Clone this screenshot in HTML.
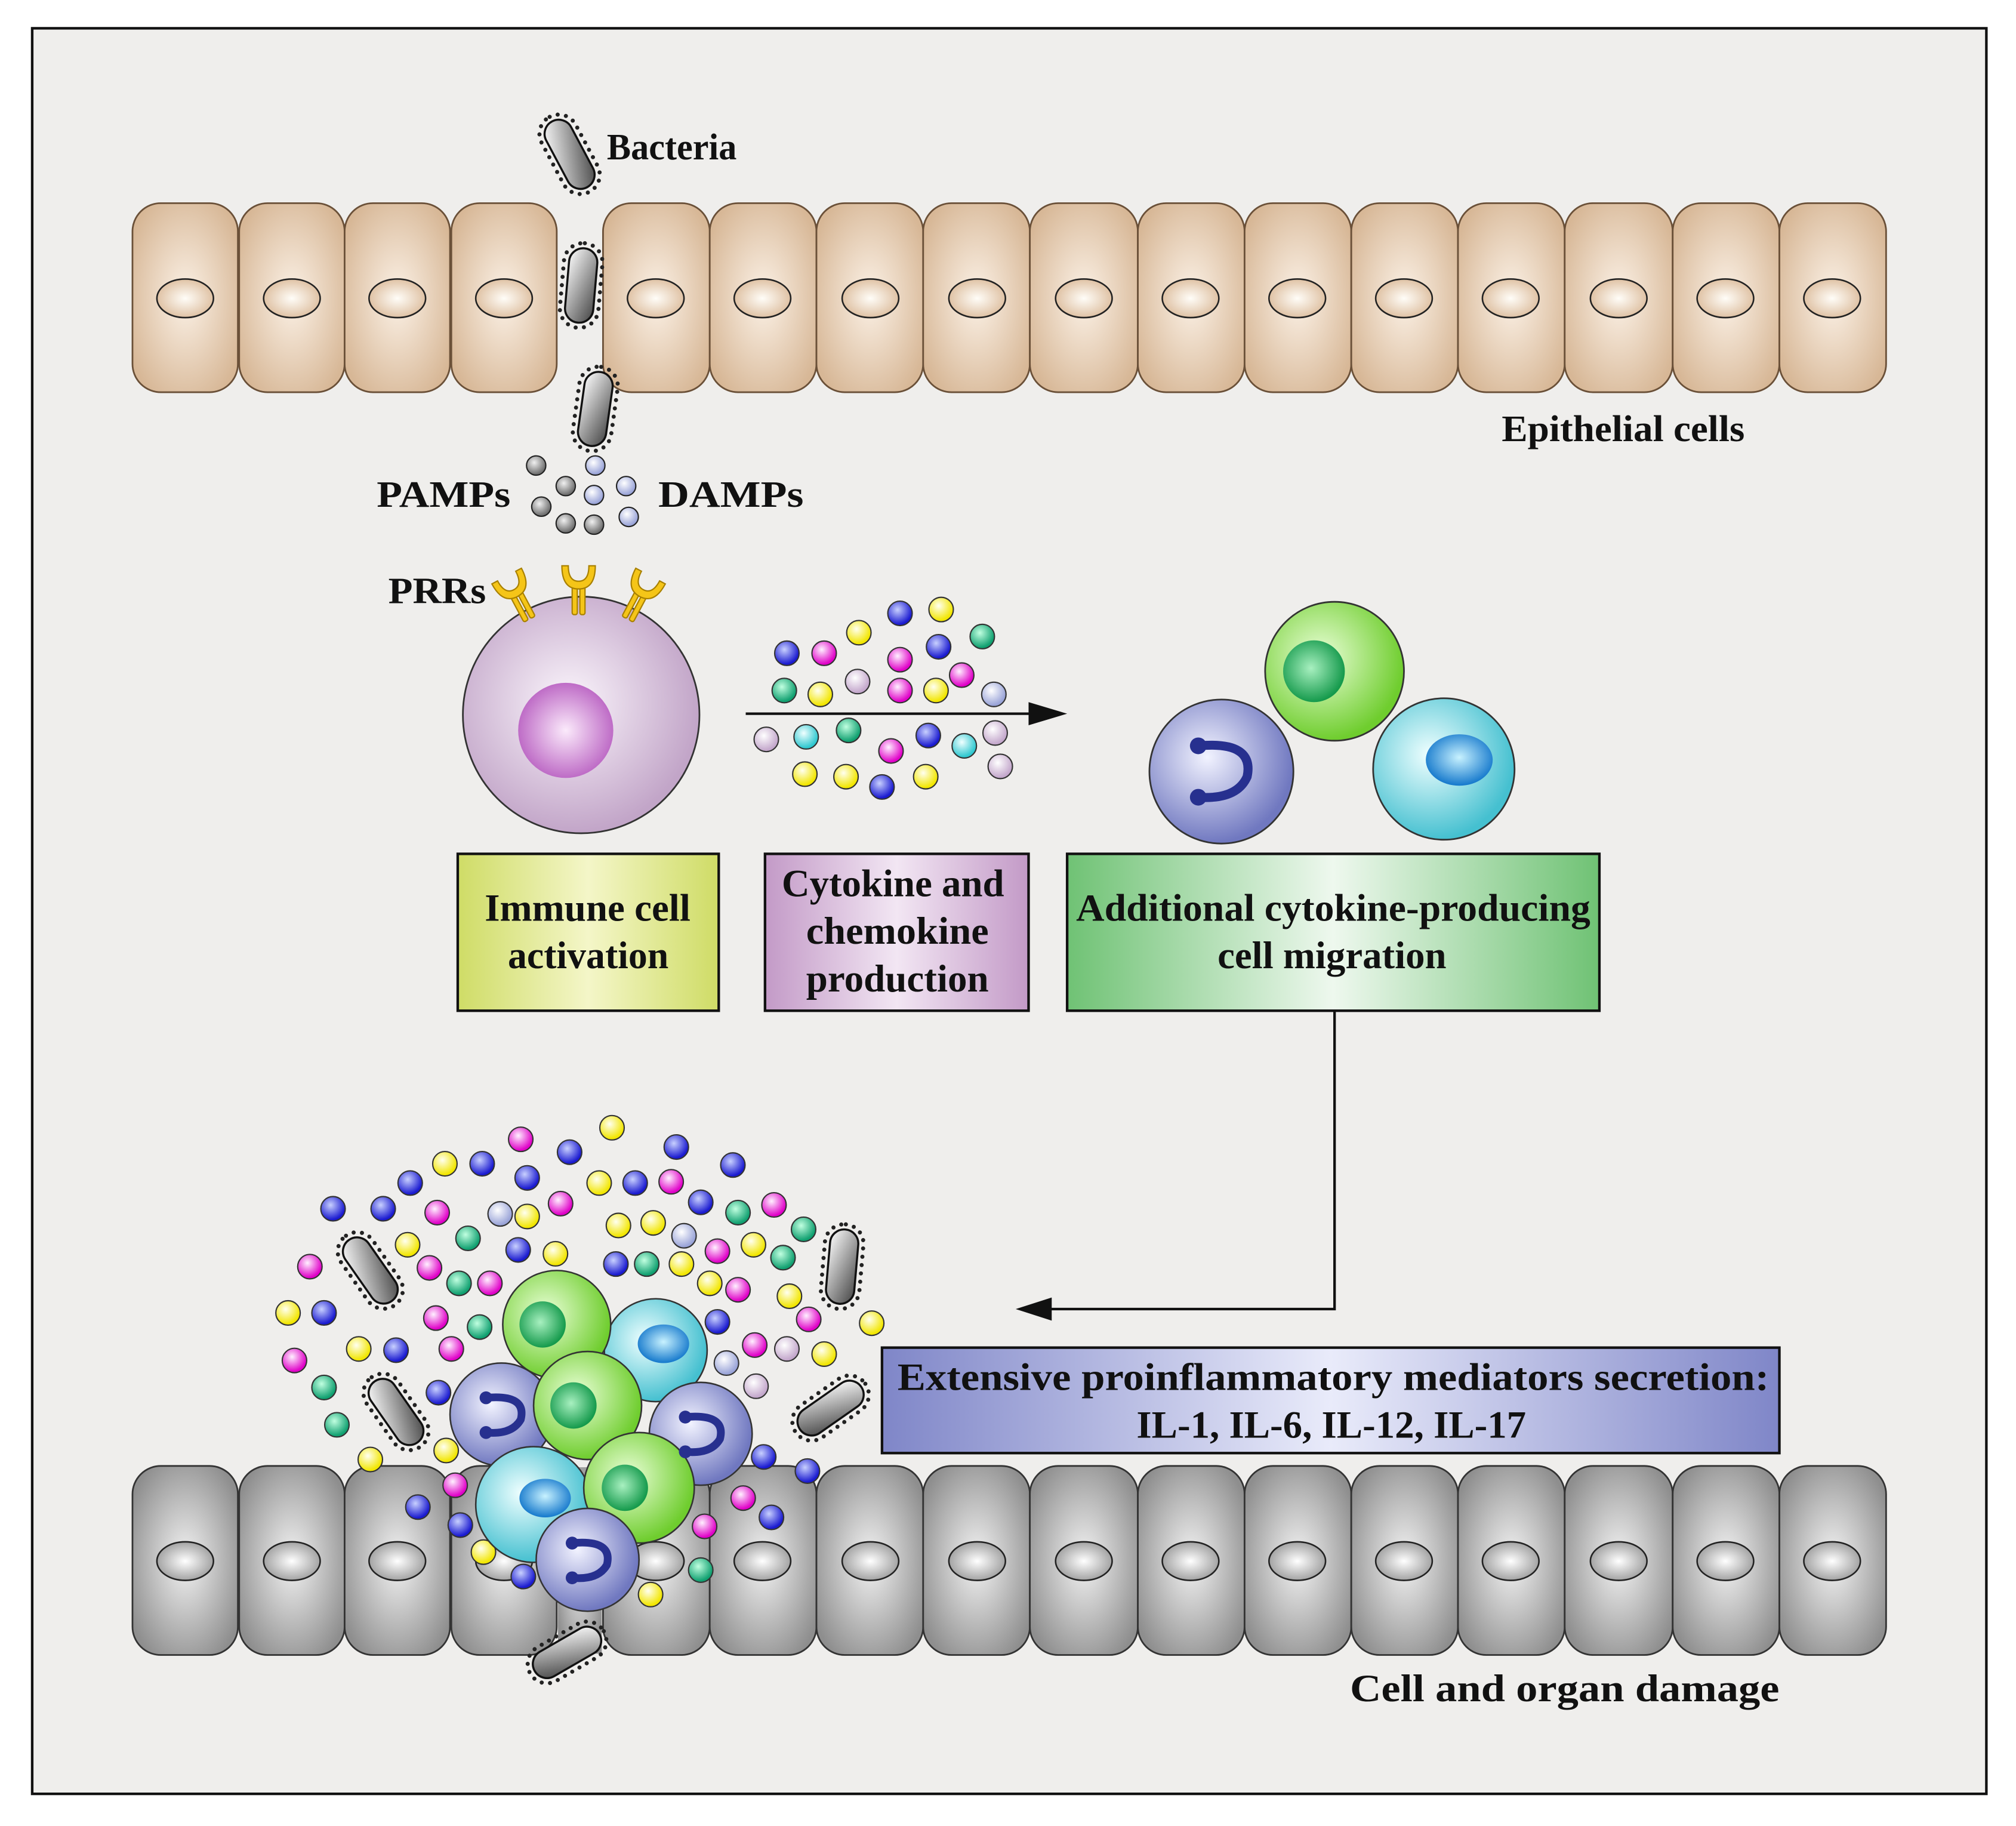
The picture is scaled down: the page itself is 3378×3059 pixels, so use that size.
<!DOCTYPE html>
<html><head><meta charset="utf-8"><style>html,body{margin:0;padding:0;background:#fff}svg{display:block}text{font-family:"Liberation Serif",serif;font-weight:bold;fill:#111}</style></head><body>
<svg width="3378" height="3059" viewBox="0 0 1568 1420" xmlns="http://www.w3.org/2000/svg">
<defs>
<radialGradient id="tan" cx="50%" cy="50%" r="60%"><stop offset="0" stop-color="#fbf1e6"/><stop offset="1" stop-color="#d7b796"/></radialGradient>
<radialGradient id="tanN" cx="50%" cy="50%" r="55%"><stop offset="0" stop-color="#fffdf8"/><stop offset="1" stop-color="#dcbc9c"/></radialGradient>
<radialGradient id="gry" cx="50%" cy="50%" r="60%"><stop offset="0" stop-color="#f2f2f2"/><stop offset="1" stop-color="#8e8e8e"/></radialGradient>
<radialGradient id="gryN" cx="50%" cy="50%" r="55%"><stop offset="0" stop-color="#ffffff"/><stop offset="1" stop-color="#9a9a9a"/></radialGradient>
<linearGradient id="bact" x1="0" y1="0" x2="1" y2="1"><stop offset="0" stop-color="#fff"/><stop offset="1" stop-color="#444"/></linearGradient>
<radialGradient id="lil" cx="45%" cy="45%" r="55%"><stop offset="0" stop-color="#fbf6fc"/><stop offset="1" stop-color="#c2a5c8"/></radialGradient>
<radialGradient id="mag" cx="50%" cy="50%" r="55%"><stop offset="0" stop-color="#fbeafb"/><stop offset="1" stop-color="#b85fc1"/></radialGradient>
<radialGradient id="gc" cx="40%" cy="40%" r="60%"><stop offset="0" stop-color="#eaffd8"/><stop offset="1" stop-color="#6fcd2e"/></radialGradient>
<radialGradient id="gn" cx="45%" cy="45%" r="55%"><stop offset="0" stop-color="#a8f0c0"/><stop offset="1" stop-color="#159a4c"/></radialGradient>
<radialGradient id="bc" cx="40%" cy="40%" r="60%"><stop offset="0" stop-color="#f2f3ff"/><stop offset="1" stop-color="#7078c0"/></radialGradient>
<radialGradient id="cc" cx="40%" cy="40%" r="60%"><stop offset="0" stop-color="#f0ffff"/><stop offset="1" stop-color="#45c0d0"/></radialGradient>
<radialGradient id="cn" cx="50%" cy="45%" r="55%"><stop offset="0" stop-color="#c8f2ff"/><stop offset="1" stop-color="#1478cc"/></radialGradient>
<linearGradient id="ybox" x1="0" y1="0" x2="1" y2="0"><stop offset="0" stop-color="#cfdc66"/><stop offset=".5" stop-color="#f4f6c8"/><stop offset="1" stop-color="#cfdc66"/></linearGradient>
<linearGradient id="pbox" x1="0" y1="0" x2="1" y2="0"><stop offset="0" stop-color="#c39ac7"/><stop offset=".5" stop-color="#f2e6f3"/><stop offset="1" stop-color="#c39ac7"/></linearGradient>
<linearGradient id="gbox" x1="0" y1="0" x2="1" y2="0"><stop offset="0" stop-color="#6fc274"/><stop offset=".5" stop-color="#eef8ee"/><stop offset="1" stop-color="#6fc274"/></linearGradient>
<linearGradient id="bbox" x1="0" y1="0" x2="1" y2="0"><stop offset="0" stop-color="#7f86c8"/><stop offset=".5" stop-color="#e9ebfa"/><stop offset="1" stop-color="#7f86c8"/></linearGradient>
<radialGradient id="dY" cx="40%" cy="35%" r="60%"><stop offset="0" stop-color="#fffff0"/><stop offset="1" stop-color="#f2e600"/></radialGradient>
<radialGradient id="dM" cx="40%" cy="35%" r="60%"><stop offset="0" stop-color="#fff0ff"/><stop offset="1" stop-color="#e000c8"/></radialGradient>
<radialGradient id="dB" cx="40%" cy="35%" r="60%"><stop offset="0" stop-color="#c8d0ff"/><stop offset="1" stop-color="#1a1ad0"/></radialGradient>
<radialGradient id="dT" cx="40%" cy="35%" r="60%"><stop offset="0" stop-color="#c0ffe0"/><stop offset="1" stop-color="#10a070"/></radialGradient>
<radialGradient id="dC" cx="40%" cy="35%" r="60%"><stop offset="0" stop-color="#f0ffff"/><stop offset="1" stop-color="#30c8d0"/></radialGradient>
<radialGradient id="dL" cx="40%" cy="35%" r="60%"><stop offset="0" stop-color="#ffffff"/><stop offset="1" stop-color="#c4a8cc"/></radialGradient>
<radialGradient id="dG" cx="40%" cy="35%" r="60%"><stop offset="0" stop-color="#f0f0f0"/><stop offset="1" stop-color="#707070"/></radialGradient>
<radialGradient id="dS" cx="40%" cy="35%" r="60%"><stop offset="0" stop-color="#ffffff"/><stop offset="1" stop-color="#9aa4d8"/></radialGradient>
<g id="bac"><rect x="-15" y="-33" width="30" height="66" rx="15" fill="none" stroke="#222" stroke-width="3.2" stroke-dasharray="0 6.5" stroke-linecap="round"/><rect x="-11" y="-29" width="22" height="58" rx="11" fill="url(#bact)" stroke="#111" stroke-width="1.6"/></g>
<g id="rec"><rect x="-5" y="-22" width="4" height="26" rx="1.5" fill="#f5c518" stroke="#a88000" stroke-width="1"/><rect x="1" y="-22" width="4" height="26" rx="1.5" fill="#f5c518" stroke="#a88000" stroke-width="1"/><path d="M-13 -34 Q-13 -16 0 -16 Q13 -16 13 -34 L8 -34 Q8 -22 0 -22 Q-8 -22 -8 -34 Z" fill="#f5c518" stroke="#a88000" stroke-width="1"/></g>
</defs>
<rect x="0" y="0" width="1568" height="1420" fill="#fff"/>
<rect x="25" y="22" width="1520" height="1373" fill="#efeeec" stroke="#111" stroke-width="2"/>

<!-- top epithelium -->
<g stroke="#6a5038" stroke-width="1.3">
<rect x="103" y="158" width="82" height="147" rx="22" fill="url(#tan)"/>
<rect x="186" y="158" width="82" height="147" rx="22" fill="url(#tan)"/>
<rect x="268" y="158" width="82" height="147" rx="22" fill="url(#tan)"/>
<rect x="351" y="158" width="82" height="147" rx="22" fill="url(#tan)"/>
<rect x="469" y="158" width="83" height="147" rx="22" fill="url(#tan)"/>
<rect x="552" y="158" width="83" height="147" rx="22" fill="url(#tan)"/>
<rect x="635" y="158" width="83" height="147" rx="22" fill="url(#tan)"/>
<rect x="718" y="158" width="83" height="147" rx="22" fill="url(#tan)"/>
<rect x="801" y="158" width="84" height="147" rx="22" fill="url(#tan)"/>
<rect x="885" y="158" width="83" height="147" rx="22" fill="url(#tan)"/>
<rect x="968" y="158" width="83" height="147" rx="22" fill="url(#tan)"/>
<rect x="1051" y="158" width="83" height="147" rx="22" fill="url(#tan)"/>
<rect x="1134" y="158" width="83" height="147" rx="22" fill="url(#tan)"/>
<rect x="1217" y="158" width="84" height="147" rx="22" fill="url(#tan)"/>
<rect x="1301" y="158" width="83" height="147" rx="22" fill="url(#tan)"/>
<rect x="1384" y="158" width="83" height="147" rx="22" fill="url(#tan)"/>
</g>
<g stroke="#222" stroke-width="1.2" fill="url(#tanN)">
<ellipse cx="144" cy="232" rx="22" ry="15"/><ellipse cx="227" cy="232" rx="22" ry="15"/><ellipse cx="309" cy="232" rx="22" ry="15"/><ellipse cx="392" cy="232" rx="22" ry="15"/>
<ellipse cx="510" cy="232" rx="22" ry="15"/><ellipse cx="593" cy="232" rx="22" ry="15"/><ellipse cx="677" cy="232" rx="22" ry="15"/><ellipse cx="760" cy="232" rx="22" ry="15"/><ellipse cx="843" cy="232" rx="22" ry="15"/><ellipse cx="926" cy="232" rx="22" ry="15"/><ellipse cx="1009" cy="232" rx="22" ry="15"/><ellipse cx="1092" cy="232" rx="22" ry="15"/><ellipse cx="1175" cy="232" rx="22" ry="15"/><ellipse cx="1259" cy="232" rx="22" ry="15"/><ellipse cx="1342" cy="232" rx="22" ry="15"/><ellipse cx="1425" cy="232" rx="22" ry="15"/>
</g>

<!-- bottom epithelium -->
<g stroke="#333" stroke-width="1.3">
<rect x="103" y="1140" width="82" height="147" rx="22" fill="url(#gry)"/>
<rect x="186" y="1140" width="82" height="147" rx="22" fill="url(#gry)"/>
<rect x="268" y="1140" width="82" height="147" rx="22" fill="url(#gry)"/>
<rect x="351" y="1140" width="82" height="147" rx="22" fill="url(#gry)"/>
<rect x="469" y="1140" width="83" height="147" rx="22" fill="url(#gry)"/>
<rect x="552" y="1140" width="83" height="147" rx="22" fill="url(#gry)"/>
<rect x="635" y="1140" width="83" height="147" rx="22" fill="url(#gry)"/>
<rect x="718" y="1140" width="83" height="147" rx="22" fill="url(#gry)"/>
<rect x="801" y="1140" width="84" height="147" rx="22" fill="url(#gry)"/>
<rect x="885" y="1140" width="83" height="147" rx="22" fill="url(#gry)"/>
<rect x="968" y="1140" width="83" height="147" rx="22" fill="url(#gry)"/>
<rect x="1051" y="1140" width="83" height="147" rx="22" fill="url(#gry)"/>
<rect x="1134" y="1140" width="83" height="147" rx="22" fill="url(#gry)"/>
<rect x="1217" y="1140" width="84" height="147" rx="22" fill="url(#gry)"/>
<rect x="1301" y="1140" width="83" height="147" rx="22" fill="url(#gry)"/>
<rect x="1384" y="1140" width="83" height="147" rx="22" fill="url(#gry)"/>
</g>
<g stroke="#222" stroke-width="1.2" fill="url(#gryN)">
<ellipse cx="144" cy="1214" rx="22" ry="15"/><ellipse cx="227" cy="1214" rx="22" ry="15"/><ellipse cx="309" cy="1214" rx="22" ry="15"/><ellipse cx="392" cy="1214" rx="22" ry="15"/>
<ellipse cx="510" cy="1214" rx="22" ry="15"/><ellipse cx="593" cy="1214" rx="22" ry="15"/><ellipse cx="677" cy="1214" rx="22" ry="15"/><ellipse cx="760" cy="1214" rx="22" ry="15"/><ellipse cx="843" cy="1214" rx="22" ry="15"/><ellipse cx="926" cy="1214" rx="22" ry="15"/><ellipse cx="1009" cy="1214" rx="22" ry="15"/><ellipse cx="1092" cy="1214" rx="22" ry="15"/><ellipse cx="1175" cy="1214" rx="22" ry="15"/><ellipse cx="1259" cy="1214" rx="22" ry="15"/><ellipse cx="1342" cy="1214" rx="22" ry="15"/><ellipse cx="1425" cy="1214" rx="22" ry="15"/>
</g>
<rect x="434" y="1141" width="34" height="145" fill="url(#gry)"/>

<!-- top bacteria -->
<use href="#bac" transform="translate(443,120) rotate(-28)"/>
<use href="#bac" transform="translate(452,222) rotate(5)"/>
<use href="#bac" transform="translate(463,318) rotate(8)"/>

<!-- PAMPs DAMPs -->
<g stroke="#222" stroke-width="1">
<circle cx="417" cy="362" r="7.5" fill="url(#dG)"/><circle cx="440" cy="378" r="7.5" fill="url(#dG)"/><circle cx="421" cy="394" r="7.5" fill="url(#dG)"/><circle cx="440" cy="407" r="7.5" fill="url(#dG)"/><circle cx="462" cy="408" r="7.5" fill="url(#dG)"/>
<circle cx="463" cy="362" r="7.5" fill="url(#dS)"/><circle cx="462" cy="385" r="7.5" fill="url(#dS)"/><circle cx="487" cy="378" r="7.5" fill="url(#dS)"/><circle cx="489" cy="402" r="7.5" fill="url(#dS)"/>
</g>

<text x="472" y="124" font-size="29" textLength="101" lengthAdjust="spacingAndGlyphs">Bacteria</text>
<text x="1168" y="343" font-size="29" textLength="189" lengthAdjust="spacingAndGlyphs">Epithelial cells</text>
<text x="293" y="394" font-size="29" textLength="104" lengthAdjust="spacingAndGlyphs">PAMPs</text>
<text x="512" y="394" font-size="29" textLength="113" lengthAdjust="spacingAndGlyphs">DAMPs</text>
<text x="302" y="469" font-size="29" textLength="76" lengthAdjust="spacingAndGlyphs">PRRs</text>

<!-- immune cell -->
<circle cx="452" cy="556" r="92" fill="url(#lil)" stroke="#333" stroke-width="1.3"/>
<circle cx="440" cy="568" r="37" fill="url(#mag)"/>
<use href="#rec" transform="translate(410,478) rotate(-28)"/>
<use href="#rec" transform="translate(450,474)"/>
<use href="#rec" transform="translate(490,478) rotate(28)"/>

<!-- arrow -->
<line x1="580" y1="555" x2="808" y2="555" stroke="#111" stroke-width="2"/>
<polygon points="800,546 830,555 800,564" fill="#111"/>

<!-- cytokines -->
<g stroke="#333" stroke-width="1">
<circle cx="612" cy="508" r="9.5" fill="url(#dB)"/><circle cx="641" cy="508" r="9.5" fill="url(#dM)"/><circle cx="668" cy="492" r="9.5" fill="url(#dY)"/><circle cx="700" cy="477" r="9.5" fill="url(#dB)"/><circle cx="732" cy="474" r="9.5" fill="url(#dY)"/><circle cx="764" cy="495" r="9.5" fill="url(#dT)"/><circle cx="730" cy="503" r="9.5" fill="url(#dB)"/><circle cx="700" cy="513" r="9.5" fill="url(#dM)"/><circle cx="610" cy="537" r="9.5" fill="url(#dT)"/><circle cx="638" cy="540" r="9.5" fill="url(#dY)"/><circle cx="667" cy="530" r="9.5" fill="url(#dL)"/><circle cx="700" cy="537" r="9.5" fill="url(#dM)"/><circle cx="728" cy="537" r="9.5" fill="url(#dY)"/><circle cx="748" cy="525" r="9.5" fill="url(#dM)"/><circle cx="773" cy="540" r="9.5" fill="url(#dS)"/>
<circle cx="596" cy="575" r="9.5" fill="url(#dL)"/><circle cx="627" cy="573" r="9.5" fill="url(#dC)"/><circle cx="660" cy="568" r="9.5" fill="url(#dT)"/><circle cx="693" cy="584" r="9.5" fill="url(#dM)"/><circle cx="722" cy="572" r="9.5" fill="url(#dB)"/><circle cx="750" cy="580" r="9.5" fill="url(#dC)"/><circle cx="774" cy="570" r="9.5" fill="url(#dL)"/><circle cx="778" cy="596" r="9.5" fill="url(#dL)"/><circle cx="626" cy="602" r="9.5" fill="url(#dY)"/><circle cx="658" cy="604" r="9.5" fill="url(#dY)"/><circle cx="686" cy="612" r="9.5" fill="url(#dB)"/><circle cx="720" cy="604" r="9.5" fill="url(#dY)"/>
</g>

<!-- three cells -->
<circle cx="950" cy="600" r="56" fill="url(#bc)" stroke="#333" stroke-width="1.3"/>
<path d="M932 580 Q976 576 970 604 Q962 622 932 620" stroke="#27308f" stroke-width="7" fill="none" stroke-linecap="round"/>
<circle cx="932" cy="580" r="6.5" fill="#27308f"/><circle cx="932" cy="620" r="6.5" fill="#27308f"/>
<circle cx="1038" cy="522" r="54" fill="url(#gc)" stroke="#333" stroke-width="1.3"/>
<circle cx="1022" cy="522" r="24" fill="url(#gn)"/>
<circle cx="1123" cy="598" r="55" fill="url(#cc)" stroke="#333" stroke-width="1.3"/>
<ellipse cx="1135" cy="591" rx="26" ry="20" fill="url(#cn)"/>

<!-- boxes -->
<rect x="356" y="664" width="203" height="122" fill="url(#ybox)" stroke="#111" stroke-width="2"/>
<text x="377" y="716" font-size="30" textLength="160" lengthAdjust="spacingAndGlyphs">Immune cell</text>
<text x="395" y="753" font-size="30" textLength="125" lengthAdjust="spacingAndGlyphs">activation</text>
<rect x="595" y="664" width="205" height="122" fill="url(#pbox)" stroke="#111" stroke-width="2"/>
<text x="608" y="697" font-size="30" textLength="173" lengthAdjust="spacingAndGlyphs">Cytokine and</text>
<text x="627" y="734" font-size="30" textLength="142" lengthAdjust="spacingAndGlyphs">chemokine</text>
<text x="627" y="771" font-size="30" textLength="142" lengthAdjust="spacingAndGlyphs">production</text>
<rect x="830" y="664" width="414" height="122" fill="url(#gbox)" stroke="#111" stroke-width="2"/>
<text x="837" y="716" font-size="30" textLength="400" lengthAdjust="spacingAndGlyphs">Additional cytokine-producing</text>
<text x="947" y="753" font-size="30" textLength="178" lengthAdjust="spacingAndGlyphs">cell migration</text>

<!-- connector -->
<polyline points="1038,786 1038,1018 812,1018" fill="none" stroke="#111" stroke-width="2"/>
<polygon points="818,1009 790,1018 818,1027" fill="#111"/>

<rect x="686" y="1048" width="698" height="82" fill="url(#bbox)" stroke="#111" stroke-width="2"/>
<text x="698" y="1081" font-size="30" textLength="678" lengthAdjust="spacingAndGlyphs">Extensive proinflammatory mediators secretion:</text>
<text x="884" y="1118" font-size="30" textLength="303" lengthAdjust="spacingAndGlyphs">IL-1, IL-6, IL-12, IL-17</text>

<text x="1050" y="1323" font-size="30" textLength="334" lengthAdjust="spacingAndGlyphs">Cell and  organ damage</text>

<!-- bottom bacteria -->
<use href="#bac" transform="translate(288,988) rotate(-35)"/>
<use href="#bac" transform="translate(655,985) rotate(5)"/>
<use href="#bac" transform="translate(308,1098) rotate(-35)"/>
<use href="#bac" transform="translate(646,1095) rotate(55)"/>
<use href="#bac" transform="translate(441,1285) rotate(60)"/>

<!-- bottom dots -->
<g stroke="#333" stroke-width="1">
<circle cx="476" cy="877" r="9.5" fill="url(#dY)"/><circle cx="346" cy="905" r="9.5" fill="url(#dY)"/><circle cx="466" cy="920" r="9.5" fill="url(#dY)"/><circle cx="317" cy="968" r="9.5" fill="url(#dY)"/><circle cx="410" cy="946" r="9.5" fill="url(#dY)"/><circle cx="432" cy="975" r="9.5" fill="url(#dY)"/><circle cx="481" cy="953" r="9.5" fill="url(#dY)"/><circle cx="508" cy="951" r="9.5" fill="url(#dY)"/><circle cx="586" cy="968" r="9.5" fill="url(#dY)"/><circle cx="552" cy="998" r="9.5" fill="url(#dY)"/><circle cx="614" cy="1008" r="9.5" fill="url(#dY)"/><circle cx="530" cy="983" r="9.5" fill="url(#dY)"/><circle cx="224" cy="1021" r="9.5" fill="url(#dY)"/><circle cx="279" cy="1049" r="9.5" fill="url(#dY)"/><circle cx="641" cy="1053" r="9.5" fill="url(#dY)"/><circle cx="678" cy="1029" r="9.5" fill="url(#dY)"/><circle cx="288" cy="1135" r="9.5" fill="url(#dY)"/><circle cx="347" cy="1128" r="9.5" fill="url(#dY)"/><circle cx="376" cy="1207" r="9.5" fill="url(#dY)"/><circle cx="506" cy="1240" r="9.5" fill="url(#dY)"/>
<circle cx="405" cy="886" r="9.5" fill="url(#dM)"/><circle cx="522" cy="919" r="9.5" fill="url(#dM)"/><circle cx="436" cy="936" r="9.5" fill="url(#dM)"/><circle cx="340" cy="943" r="9.5" fill="url(#dM)"/><circle cx="602" cy="937" r="9.5" fill="url(#dM)"/><circle cx="558" cy="973" r="9.5" fill="url(#dM)"/><circle cx="334" cy="986" r="9.5" fill="url(#dM)"/><circle cx="381" cy="998" r="9.5" fill="url(#dM)"/><circle cx="241" cy="985" r="9.5" fill="url(#dM)"/><circle cx="574" cy="1003" r="9.5" fill="url(#dM)"/><circle cx="629" cy="1026" r="9.5" fill="url(#dM)"/><circle cx="339" cy="1025" r="9.5" fill="url(#dM)"/><circle cx="351" cy="1049" r="9.5" fill="url(#dM)"/><circle cx="587" cy="1046" r="9.5" fill="url(#dM)"/><circle cx="229" cy="1058" r="9.5" fill="url(#dM)"/><circle cx="354" cy="1155" r="9.5" fill="url(#dM)"/><circle cx="578" cy="1165" r="9.5" fill="url(#dM)"/><circle cx="548" cy="1187" r="9.5" fill="url(#dM)"/>
<circle cx="259" cy="940" r="9.5" fill="url(#dB)"/><circle cx="298" cy="940" r="9.5" fill="url(#dB)"/><circle cx="319" cy="920" r="9.5" fill="url(#dB)"/><circle cx="375" cy="905" r="9.5" fill="url(#dB)"/><circle cx="410" cy="916" r="9.5" fill="url(#dB)"/><circle cx="443" cy="896" r="9.5" fill="url(#dB)"/><circle cx="494" cy="920" r="9.5" fill="url(#dB)"/><circle cx="526" cy="892" r="9.5" fill="url(#dB)"/><circle cx="570" cy="906" r="9.5" fill="url(#dB)"/><circle cx="545" cy="935" r="9.5" fill="url(#dB)"/><circle cx="403" cy="972" r="9.5" fill="url(#dB)"/><circle cx="479" cy="983" r="9.5" fill="url(#dB)"/><circle cx="252" cy="1021" r="9.5" fill="url(#dB)"/><circle cx="308" cy="1050" r="9.5" fill="url(#dB)"/><circle cx="558" cy="1028" r="9.5" fill="url(#dB)"/><circle cx="594" cy="1133" r="9.5" fill="url(#dB)"/><circle cx="628" cy="1144" r="9.5" fill="url(#dB)"/><circle cx="600" cy="1180" r="9.5" fill="url(#dB)"/><circle cx="325" cy="1172" r="9.5" fill="url(#dB)"/><circle cx="358" cy="1186" r="9.5" fill="url(#dB)"/><circle cx="407" cy="1226" r="9.5" fill="url(#dB)"/><circle cx="341" cy="1083" r="9.5" fill="url(#dB)"/>
<circle cx="574" cy="943" r="9.5" fill="url(#dT)"/><circle cx="625" cy="956" r="9.5" fill="url(#dT)"/><circle cx="609" cy="978" r="9.5" fill="url(#dT)"/><circle cx="364" cy="963" r="9.5" fill="url(#dT)"/><circle cx="357" cy="998" r="9.5" fill="url(#dT)"/><circle cx="503" cy="983" r="9.5" fill="url(#dT)"/><circle cx="373" cy="1032" r="9.5" fill="url(#dT)"/><circle cx="252" cy="1079" r="9.5" fill="url(#dT)"/><circle cx="262" cy="1108" r="9.5" fill="url(#dT)"/><circle cx="545" cy="1221" r="9.5" fill="url(#dT)"/>
<circle cx="389" cy="944" r="9.5" fill="url(#dS)"/><circle cx="532" cy="961" r="9.5" fill="url(#dS)"/><circle cx="565" cy="1060" r="9.5" fill="url(#dS)"/><circle cx="612" cy="1049" r="9.5" fill="url(#dL)"/><circle cx="588" cy="1078" r="9.5" fill="url(#dL)"/>
</g>

<!-- cluster -->
<g stroke="#333" stroke-width="1.2">
<circle cx="510" cy="1050" r="40" fill="url(#cc)"/>
<circle cx="433" cy="1030" r="42" fill="url(#gc)"/>
<circle cx="390" cy="1100" r="40" fill="url(#bc)"/>
<circle cx="545" cy="1115" r="40" fill="url(#bc)"/>
<circle cx="457" cy="1093" r="42" fill="url(#gc)"/>
<circle cx="415" cy="1170" r="45" fill="url(#cc)"/>
<circle cx="497" cy="1157" r="43" fill="url(#gc)"/>
<circle cx="457" cy="1213" r="40" fill="url(#bc)"/>
</g>
<ellipse cx="516" cy="1045" rx="20" ry="15" fill="url(#cn)"/>
<circle cx="422" cy="1030" r="18" fill="url(#gn)"/>
<circle cx="446" cy="1093" r="18" fill="url(#gn)"/>
<ellipse cx="424" cy="1165" rx="20" ry="15" fill="url(#cn)"/>
<circle cx="486" cy="1157" r="18" fill="url(#gn)"/>
<g stroke="#27308f" stroke-width="6" fill="none" stroke-linecap="round">
<path d="M378 1087 Q410 1084 405 1104 Q398 1116 378 1114"/>
<path d="M533 1102 Q565 1099 560 1119 Q553 1131 533 1129"/>
<path d="M445 1200 Q477 1197 472 1217 Q465 1229 445 1227"/>
</g>
<g fill="#27308f">
<circle cx="378" cy="1087" r="5"/><circle cx="378" cy="1114" r="5"/>
<circle cx="533" cy="1102" r="5"/><circle cx="533" cy="1129" r="5"/>
<circle cx="445" cy="1200" r="5"/><circle cx="445" cy="1227" r="5"/>
</g>
</svg>
</body></html>
